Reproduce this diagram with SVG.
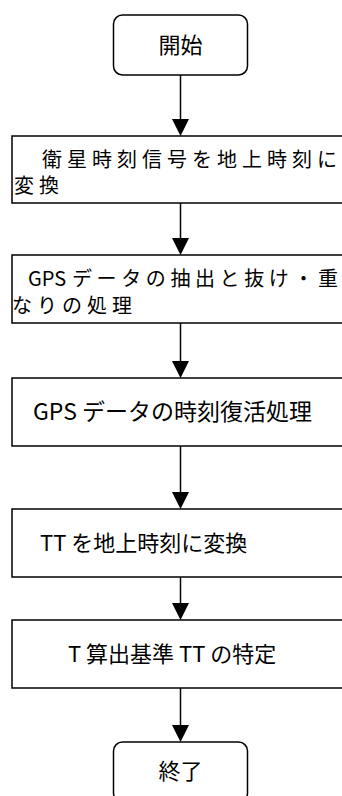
<svg xmlns="http://www.w3.org/2000/svg" width="342" height="796" viewBox="0 0 342 796">
<defs>
<style>
.box{fill:#fff;stroke:#000;stroke-width:1.5}
.t{font-family:"Noto Sans CJK JP","Noto Sans",sans-serif;fill:#000}
.c{stroke:#000;stroke-width:1.5;fill:none}
</style>
</defs>
<rect width="342" height="796" fill="#fff"/>
<g id="connectors">
<line class="c" x1="180.5" y1="75" x2="180.5" y2="119"/><path d="M172,119 L189,119 L180.5,136 z"/>
<line class="c" x1="180.5" y1="203" x2="180.5" y2="238"/><path d="M172,238 L189,238 L180.5,255 z"/>
<line class="c" x1="180.5" y1="323" x2="180.5" y2="361"/><path d="M172,361 L189,361 L180.5,378 z"/>
<line class="c" x1="180.5" y1="446" x2="180.5" y2="492"/><path d="M172,492 L189,492 L180.5,509 z"/>
<line class="c" x1="180.5" y1="577" x2="180.5" y2="603"/><path d="M172,603 L189,603 L180.5,620 z"/>
<line class="c" x1="180.5" y1="688" x2="180.5" y2="725"/><path d="M172,725 L189,725 L180.5,742 z"/>
</g>
<g id="start">
<rect class="box" x="113.5" y="15" width="134" height="60" rx="9"/>
<text class="t" x="180.5" y="53" font-size="22" text-anchor="middle">開始</text>
</g>
<g id="step1">
<rect class="box" x="12" y="136" width="338" height="67"/>
<text class="t" x="42" y="167" font-size="20" letter-spacing="5">衛星時刻信号を地上時刻に</text>
<text class="t" x="14" y="193" font-size="20" letter-spacing="5">変換</text>
</g>
<g id="step2">
<rect class="box" x="12" y="255" width="338" height="68"/>
<text class="t" y="286" font-size="20"><tspan x="28">GPS</tspan><tspan x="72" letter-spacing="4.6">データの抽出と抜け・重</tspan></text>
<text class="t" x="12" y="313" font-size="20" letter-spacing="5">なりの処理</text>
</g>
<g id="step3">
<rect class="box" x="12" y="378" width="338" height="68"/>
<text class="t" x="33" y="420" font-size="23">GPS データの時刻復活処理</text>
</g>
<g id="step4">
<rect class="box" x="12" y="509" width="338" height="68"/>
<text class="t" x="40" y="551" font-size="22">TT を地上時刻に変換</text>
</g>
<g id="step5">
<rect class="box" x="12" y="620" width="338" height="68"/>
<text class="t" x="68" y="662" font-size="22">T 算出基準 TT の特定</text>
</g>
<g id="end">
<rect class="box" x="113.5" y="742" width="134" height="60" rx="9"/>
<text class="t" x="180.5" y="779" font-size="22" text-anchor="middle">終了</text>
</g>
</svg>
